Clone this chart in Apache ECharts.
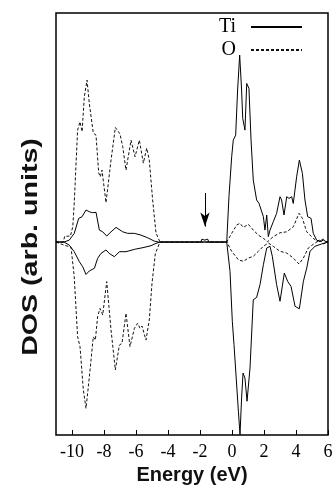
<!DOCTYPE html>
<html>
<head>
<meta charset="utf-8">
<script src="https://cdn.jsdelivr.net/npm/echarts@6/dist/echarts.min.js"></script>
<style>
  html, body { margin: 0; padding: 0; background: #fff; }
  #chart { width: 336px; height: 502px; }
</style>
</head>
<body>
<div id="chart"></div>
<script>
// energy (eV), DOS (arb. units) -- upper = spin up, lower = spin down
var tiUp = [[-11,0],[-10.5,0],[-10.17,0.1],[-9.86,0.45],[-9.58,1.23],[-9.375,1.31],[-9.125,1.66],[-8.92,1.57],
  [-8.71,1.52],[-8.5,1.54],[-8.29,0.62],[-8.08,0.53],[-7.83,0.31],[-7.56,0.53],[-7.25,0.76],[-6.83,0.53],
  [-6.52,0.45],[-6.1,0.45],[-5.69,0.36],[-5.27,0.22],[-4.86,0.05],[-4.6,0],[-1.95,0],[-1.88,0.15],[-1.78,0.17],
  [-1.7,0.1],[-1.62,0.17],[-1.52,0.15],[-1.45,0],[-0.33,0],[-0.19,2.35],[-0.02,4.42],[0.08,5.28],[0.23,5.54],
  [0.35,7.88],[0.48,9.69],[0.6,7.88],[0.67,6.41],[0.81,5.8],[0.92,8.22],[1.06,7.96],[1.19,5.28],[1.33,3.21],
  [1.54,2.18],[1.69,2.0],[1.81,2.09],[1.96,1.31],[2.06,0.62],[2.17,1.4],[2.27,0.28],[2.375,0.62],[2.58,1.05],
  [2.79,1.49],[3.0,2.35],[3.1,2.18],[3.25,1.4],[3.42,2.35],[3.56,2.26],[3.73,2.35],[3.83,2.0],[4.04,3.38],
  [4.21,4.25],[4.4,3.56],[4.56,2.18],[4.73,1.31],[4.94,1.23],[5.08,0.45],[5.29,0.1],[5.5,0.02],[5.71,0.1],
  [5.92,0],[6,0]];
var tiDown = [[-11,0],[-10.5,0],[-10.17,-0.16],[-9.86,-0.5],[-9.54,-1.02],[-9.33,-1.28],[-9.125,-1.68],
  [-8.92,-1.5],[-8.6,-1.36],[-8.4,-0.85],[-8.19,-0.59],[-7.875,-0.41],[-7.67,-0.59],[-7.35,-0.76],[-7.04,-0.5],
  [-6.625,-0.5],[-6.1,-0.38],[-5.56,-0.29],[-5.06,-0.19],[-4.75,-0.07],[-4.5,0],[-0.33,0],[-0.125,-1.52],
  [0.02,-4.11],[0.125,-5.32],[0.25,-5.35],[0.4,-8.77],[0.5,-9.98],[0.6,-8.08],[0.69,-6.79],[0.81,-7.05],
  [0.94,-8.25],[1.125,-6.53],[1.33,-2.99],[1.54,-2.87],[1.75,-2.21],[1.96,-1.18],[2.17,-0.31],[2.375,-0.22],
  [2.52,-0.74],[2.79,-2.21],[3.0,-3.07],[3.27,-1.61],[3.48,-2.04],[3.69,-2.3],[3.94,-3.33],[4.21,-3.46],
  [4.46,-2.04],[4.67,-1.35],[4.875,-0.48],[5.19,-0.22],[5.6,-0.1],[6,0]];
var oUp = [[-11,0],[-10.55,0],[-10.45,0.31],[-10.3,0.3],[-10.1,0.31],[-9.95,0.8],[-9.86,2.02],[-9.65,5.8],
  [-9.5,6.23],[-9.37,5.72],[-9.23,7.53],[-9.06,8.39],[-8.92,7.2],[-8.67,5.65],[-8.5,5.54],[-8.33,3.58],
  [-8.23,3.38],[-8.125,3.73],[-7.875,2.04],[-7.56,4.25],[-7.29,5.94],[-7.0,5.6],[-6.83,4.94],[-6.625,3.73],
  [-6.31,5.28],[-6.06,4.42],[-5.79,5.28],[-5.54,4.09],[-5.33,4.87],[-5.17,4.25],[-4.96,2.18],[-4.75,0.47],
  [-4.5,0],[-0.33,0],[-0.02,0.45],[0.29,0.88],[0.5,0.97],[0.71,0.76],[1.02,0.92],[1.33,0.62],[1.65,0.36],
  [1.96,0.19],[2.23,0.02],[2.58,0.28],[3.0,0.48],[3.42,0.53],[3.83,0.79],[4.19,1.49],[4.4,1.23],[4.67,0.53],
  [5.08,0.19],[5.3,0.05],[5.5,0.1],[5.71,0.15],[5.85,0.05],[6,0]];
var oDown = [[-11,0],[-10.5,-0.16],[-10.06,-0.27],[-9.86,-1.8],[-9.65,-4.9],[-9.5,-5.42],[-9.29,-7.67],
  [-9.125,-8.62],[-8.98,-7.5],[-8.81,-6.11],[-8.67,-4.91],[-8.54,-5.08],[-8.4,-3.87],[-8.25,-3.44],[-8.08,-3.78],
  [-7.83,-2.05],[-7.56,-4.56],[-7.29,-6.63],[-7.04,-5.34],[-6.875,-5.25],[-6.625,-3.69],[-6.375,-5.42],
  [-6.1,-4.47],[-5.9,-4.21],[-5.75,-4.47],[-5.625,-4.35],[-5.52,-4.42],[-5.375,-5.08],[-5.17,-4.04],[-5.0,-2.14],
  [-4.79,-0.59],[-4.5,0],[-0.33,0],[-0.02,-0.48],[0.4,-0.92],[0.71,-1.0],[1.02,-0.83],[1.33,-0.74],[1.65,-0.48],
  [1.96,-0.22],[2.27,-0.05],[2.58,-0.22],[3.0,-0.48],[3.42,-0.57],[3.83,-0.83],[4.19,-1.14],[4.46,-0.83],
  [4.77,-0.31],[5.19,-0.05],[5.5,0.1],[5.7,-0.1],[6,0]];
var xTicks = [-10, -8, -6, -4, -2, 0, 2, 4, 6];
var arrowFrom = [-1.69, 2.54];
var arrowTo = [-1.69, 0.8];

var chart = echarts.init(document.getElementById('chart'));

var solid = { color: '#000', width: 1 };
var dashed = { color: '#111', width: 1, type: [3, 2] };

var option = {
  animation: false,
  grid: { left: 56, right: 8, top: 13, bottom: 67, show: true, borderColor: '#000', borderWidth: 1.5 },
  legend: {
    orient: 'vertical', right: 33, top: 17, align: 'right', padding: 0,
    itemWidth: 51, itemHeight: 10, itemGap: 3,
    data: ['Ti', 'O'],
    itemStyle: { opacity: 0 },
    formatter: function (n) { return n + '  '; },
    textStyle: { fontFamily: 'Liberation Serif', fontSize: 20, color: '#000' }
  },
  xAxis: {
    type: 'value', min: -11, max: 6,
    axisLine: { show: false, onZero: false },
    splitLine: { show: false },
    axisTick: { inside: true, length: 5, customValues: xTicks, lineStyle: { color: '#000' } },
    axisLabel: { customValues: xTicks, color: '#000', fontFamily: 'Liberation Serif', fontSize: 18, margin: 8 },
    name: 'Energy (eV)', nameLocation: 'middle', nameGap: 26,
    nameTextStyle: { fontFamily: 'Liberation Sans', fontWeight: 'bold', fontSize: 20, color: '#111' }
  },
  yAxis: {
    type: 'value', min: -10, max: 11.87,
    axisLine: { show: false, onZero: false }, axisTick: { show: false }, axisLabel: { show: false }, splitLine: { show: false }
  },
  graphic: [{
    type: 'text', x: 31, y: 247, rotation: Math.PI / 2, scaleX: 1.3,
    style: { text: 'DOS (arb. units)', font: 'bold 22px "Liberation Sans"', align: 'center', verticalAlign: 'middle', fill: '#111' }
  }],
  series: [
    { name: 'Ti', type: 'line', data: tiUp, symbol: 'none', lineStyle: solid, itemStyle: { color: '#000' }, z: 3,
      markLine: {
        silent: true, symbol: ['none', 'arrow'], symbolSize: [7, 14],
        lineStyle: { color: '#000', width: 1, type: 'solid' }, label: { show: false },
        data: [[{ coord: arrowFrom }, { coord: arrowTo }]]
      } },
    { name: 'Ti', type: 'line', data: tiDown, symbol: 'none', lineStyle: solid, itemStyle: { color: '#000' }, z: 3 },
    { name: 'O', type: 'line', data: oUp, symbol: 'none', lineStyle: dashed, itemStyle: { color: '#111' }, z: 2 },
    { name: 'O', type: 'line', data: oDown, symbol: 'none', lineStyle: dashed, itemStyle: { color: '#111' }, z: 2 }
  ]
};

chart.setOption(option);
</script>
</body>
</html>
